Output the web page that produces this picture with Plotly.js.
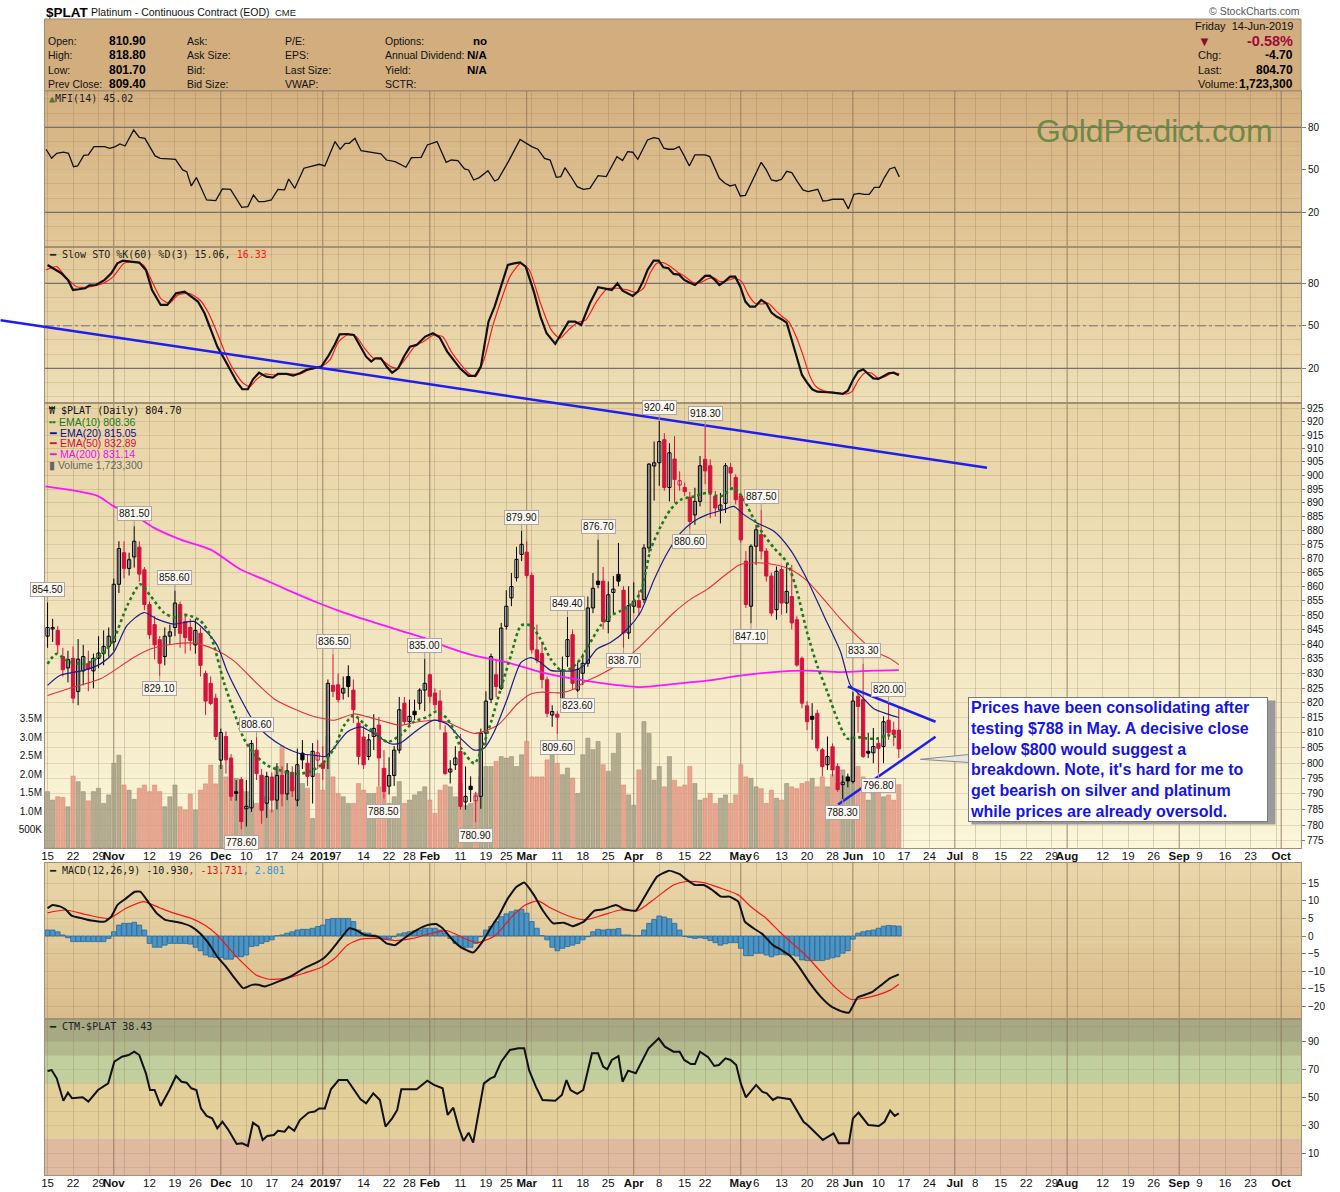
<!DOCTYPE html>
<html><head><meta charset="utf-8">
<script src="https://cdn.plot.ly/plotly-3.0.1.min.js"></script>
<style>html,body{margin:0;padding:0;background:#fff}</style>
</head><body><div id="chart" style="width:1340px;height:1192px"></div>
<script>
// ---------- DATA (trading-day index 0 = 15-Oct-2018 ... 167 = 14-Jun-2019) ----------
const open = [842.7,845.2,844.7,835.7,831.8,835.1,823.8,830.8,833.3,830.8,
835.1,836.7,839.2,840.7,860.8,872.0,866.4,870.5,874.0,865.9,
853.7,846.7,841.5,835.7,842.7,845.7,853.7,847.7,845.7,839.7,
843.7,829.9,826.6,821.6,801.0,808.8,801.7,790.7,794.7,785.2,
785.5,804.3,796.0,787.0,795.5,788.0,796.0,790.0,797.0,788.0,
803.3,800.0,795.7,801.0,800.0,802.2,825.9,826.1,823.3,828.9,
824.3,813.2,808.6,802.2,808.8,812.6,798.3,792.5,796.0,804.3,
819.9,813.7,817.2,819.9,824.3,829.5,823.3,820.6,810.0,797.1,
799.5,803.9,787.4,792.5,787.8,789.2,809.9,821.2,829.5,824.9,
846.1,856.0,863.1,871.4,872.2,863.9,838.0,836.7,827.8,815.9,
816.2,818.8,835.7,843.2,824.3,830.0,833.4,852.5,861.9,861.9,
847.8,857.9,864.3,858.7,843.8,853.1,855.1,855.4,873.7,903.5,
904.7,913.3,895.6,906.1,896.5,895.6,892.0,885.6,890.5,906.0,
903.6,892.4,887.4,889.8,903.0,899.3,892.5,869.0,853.1,874.3,
878.5,872.6,863.7,851.9,866.0,854.2,856.5,848.4,835.1,819.0,
815.5,816.5,804.4,799.5,805.4,798.9,793.0,795.5,794.0,822.2,
821.1,803.9,803.4,806.5,805.5,814.2,810.9,810.9];
const high = [854.5,848.7,846.2,838.7,837.7,839.2,841.7,839.7,837.7,836.7,
842.7,844.7,845.7,862.8,876.1,876.1,872.0,881.5,876.1,866.9,
854.7,849.7,842.7,845.7,846.7,858.6,854.7,850.7,848.7,848.7,
845.7,830.9,828.9,823.1,811.4,810.5,803.0,794.5,795.5,794.5,
807.6,808.6,798.1,797.2,797.0,800.0,799.0,800.0,799.0,804.8,
807.6,803.0,806.6,807.6,805.6,827.9,836.5,829.9,828.9,832.7,
827.9,815.3,812.4,809.6,816.2,815.3,804.3,801.9,805.6,822.0,
822.0,821.1,821.1,824.9,835.0,829.9,824.9,824.3,812.5,801.0,
805.6,809.6,798.9,795.7,790.7,811.4,823.9,836.7,834.7,847.3,
858.7,864.8,874.1,879.9,876.1,864.9,846.7,840.7,828.9,819.2,
817.2,835.7,849.4,845.0,833.7,836.7,856.5,864.8,876.7,866.9,
861.8,863.7,875.5,860.1,860.1,861.5,858.7,875.0,904.6,912.6,
920.4,915.7,912.0,914.6,901.5,897.4,894.0,895.5,907.2,918.3,
906.0,894.3,893.6,904.6,904.6,900.4,893.6,872.6,875.0,882.0,
887.5,873.7,864.9,867.1,867.1,868.3,867.7,849.6,835.7,820.6,
819.9,817.7,805.0,808.8,806.5,800.0,796.0,796.6,823.7,823.3,
833.3,810.0,811.6,808.6,815.5,820.0,813.7,818.8];
const low = [838.7,840.7,836.7,828.9,826.9,819.9,819.2,825.9,823.9,824.9,
831.7,832.7,835.7,837.7,857.7,862.9,863.9,866.7,861.8,851.7,
841.7,834.7,829.1,832.7,839.7,842.7,838.7,836.7,837.7,836.7,
828.9,816.0,819.2,807.6,798.1,796.6,787.8,787.8,778.6,779.5,
784.2,794.5,780.4,782.3,784.0,785.0,786.0,788.0,789.0,786.0,
798.1,792.6,786.9,798.1,794.5,798.1,821.9,820.1,821.1,821.9,
813.3,799.5,798.1,801.0,804.3,792.5,788.5,789.8,792.6,803.2,
812.6,812.3,814.3,817.7,817.2,819.9,817.7,811.0,796.2,793.4,
797.8,784.9,784.9,787.4,780.9,785.2,805.9,819.9,821.9,824.3,
845.0,853.1,861.8,869.0,862.9,836.7,833.4,824.9,815.2,812.0,
809.6,817.7,832.2,824.5,823.6,826.0,832.2,850.7,859.4,845.0,
843.7,850.2,860.1,838.7,841.7,850.7,849.7,854.2,872.0,890.8,
896.2,894.4,890.5,890.0,894.4,892.5,880.6,882.0,888.7,896.8,
884.4,885.0,882.5,886.3,895.5,889.4,875.5,852.5,847.1,867.7,
869.6,861.8,849.6,848.4,850.2,850.7,845.0,832.2,818.2,810.9,
807.7,803.9,795.7,797.8,795.7,790.7,788.3,792.1,793.4,810.0,
801.7,801.7,800.0,796.8,800.0,807.7,805.6,801.7];
const close = [845.7,845.7,839.7,831.2,834.7,821.6,834.8,835.7,831.4,835.1,
836.9,839.2,842.7,860.8,873.5,866.4,869.5,876.1,864.4,853.7,
843.2,839.7,833.4,842.7,844.2,854.2,843.7,842.2,841.2,844.7,
832.7,820.6,819.8,808.8,810.1,801.1,789.2,790.2,781.1,786.0,
806.5,796.6,784.7,795.7,788.0,796.0,790.0,797.5,791.0,799.5,
801.1,795.7,803.9,803.4,798.3,826.6,823.9,821.1,824.9,825.5,
817.7,802.2,799.5,807.7,811.5,801.7,790.8,796.0,804.3,817.7,
813.7,815.5,816.0,824.3,826.6,822.2,819.4,813.8,796.6,798.1,
801.7,786.0,789.2,791.4,789.3,809.9,820.6,835.7,825.5,845.5,
853.1,860.0,869.6,875.0,863.9,838.0,834.5,827.9,816.5,817.1,
815.2,831.1,841.5,826.6,831.3,833.4,852.5,859.4,860.7,847.8,
857.1,859.1,861.9,843.8,853.3,854.8,852.7,873.7,904.2,904.7,
912.6,895.6,908.4,898.5,898.1,894.1,883.2,890.5,903.6,901.7,
893.6,888.1,889.2,903.6,900.9,891.1,876.6,853.7,874.3,880.2,
872.6,863.7,850.7,865.4,854.2,858.3,847.3,832.8,819.9,813.7,
814.5,805.0,798.9,802.2,797.8,791.4,793.8,794.2,820.6,818.8,
802.2,803.3,805.5,804.9,813.7,810.0,809.4,804.7];
const volumeM = [1.53,1.30,1.39,1.37,1.12,1.95,1.80,1.53,1.28,1.53,
1.62,1.21,1.44,2.30,2.52,1.71,1.57,1.32,1.62,1.71,
1.53,1.71,1.53,1.12,1.39,1.71,1.12,1.03,1.46,1.03,
1.57,1.74,2.25,1.74,2.25,1.93,2.23,1.89,1.59,1.53,
1.30,1.21,1.98,1.39,1.03,2.21,2.77,1.48,1.66,2.11,
1.75,1.62,0.80,2.02,1.57,3.02,1.93,1.48,1.39,1.21,
1.21,1.75,1.57,1.48,1.48,1.66,2.16,1.21,1.39,1.80,
1.21,1.30,1.44,1.53,1.66,1.30,0.94,1.57,1.71,1.66,
1.39,1.75,1.16,1.21,1.48,1.93,2.21,2.21,2.35,2.48,
2.44,2.48,2.21,2.53,2.89,1.93,1.93,1.93,2.39,2.53,
2.30,1.99,2.17,1.90,1.48,2.53,2.98,2.67,2.89,2.26,
2.08,2.57,3.11,1.71,1.44,1.16,2.12,3.43,3.11,1.84,
2.21,1.66,2.48,1.84,1.66,1.71,2.21,1.75,1.30,1.35,
1.48,1.21,1.35,1.44,1.21,1.44,2.26,1.93,1.89,1.66,
1.61,1.21,1.57,1.35,1.30,1.75,1.66,1.61,1.75,1.80,
1.89,1.66,1.93,1.66,1.99,1.75,2.12,1.93,3.02,2.21,
1.93,1.30,1.57,1.52,1.39,1.44,1.30,1.72];
const macdHist = [1.7,1.7,1.2,0.3,-0.5,-1.6,-1.6,-1.6,-1.6,-1.6,
-1.6,-1.6,-0.7,1.2,3.1,3.6,3.6,3.9,3.1,1.7,
-2.1,-3.2,-3.2,-2.6,-2.1,-2.1,-2.1,-2.1,-2.3,-3.2,
-4.2,-5.4,-5.9,-6.1,-6.1,-6.6,-6.6,-5.9,-5.9,-5.4,
-3.0,-2.8,-2.1,-1.6,-1.1,0.1,0.3,0.8,1.2,1.7,
1.9,1.9,2.2,2.7,3.1,4.7,5.0,5.0,5.0,5.0,
4.1,1.7,0.9,0.8,0.3,-0.4,-0.9,-0.9,-0.2,0.6,
0.9,1.2,1.5,1.7,2.2,2.2,2.2,1.7,0.9,-0.7,
-2.1,-2.8,-3.2,-3.2,-2.1,-0.2,1.7,2.7,4.1,5.5,
6.3,6.9,7.4,7.6,6.5,4.1,2.2,0.1,-1.1,-3.2,
-4.2,-3.5,-3.0,-2.6,-2.1,-1.1,-0.2,1.2,1.9,1.7,
1.9,1.9,2.1,0.3,0.3,0.1,0.1,1.7,3.6,4.7,
5.7,5.4,4.9,3.6,1.7,-0.1,-0.4,-0.7,-0.5,-0.7,
-1.3,-1.9,-2.6,-2.2,-1.9,-1.9,-3.5,-5.6,-5.6,-4.9,
-4.9,-5.4,-5.9,-5.4,-5.2,-5.4,-5.4,-5.7,-6.8,-7.0,
-7.0,-7.0,-7.0,-6.6,-6.2,-5.9,-4.9,-4.2,-0.9,0.8,
1.2,1.5,1.7,2.2,2.8,3.0,2.9,2.8];

const ema10Pts = [[0,833.2],[1.7,836.6],[4.3,833.9],[7.5,833.2],[10.8,836.6],[13,841.7],[15.6,853.2],[18.2,860.8],[20.2,856.7],[22.8,850.9],[24.8,849.2],[27.4,850],[30,848],[32,842.8],[34.6,826.9],[36.5,817.4],[38.5,808.1],[40.5,803.1],[43.1,799.3],[45.7,797.6],[48.3,796.5],[51,797],[53.6,799.3],[56.2,804.8],[58.2,812.5],[60.1,815.8],[62.1,813],[64,810.3],[66.7,807],[69.2,809.2],[71.8,813.6],[74.5,815.3],[76.4,817.2],[78.4,814.7],[79.8,810.5],[81.1,805],[83.7,799.9],[85,803.7],[87,813.6],[88.9,824.7],[90.9,836],[92.9,846.4],[94.8,846.4],[96.7,841.7],[98.7,834.9],[100.7,831],[102.6,831.6],[104.6,834.9],[106.5,840.6],[108.5,846.4],[110.5,849.8],[112.4,851.5],[114.4,853.8],[116.3,857.8],[118.3,873.1],[120.3,881.5],[122.2,887.5],[124.2,891.1],[126.8,892.3],[129.4,893.6],[132,892.3],[134.6,895.4],[136.6,891.1],[138.6,883.9],[140.5,878.5],[142.5,873.7],[145.1,868.4],[147.1,857.8],[149,844],[151,832.6],[153,823.6],[154.9,814.7],[156.9,808.1],[158.8,808.6],[160.8,808.1],[162.8,808.1],[164.7,809.2],[167,808.4]];
const ema20Pts = [[0,825.9],[2.5,829.3],[7.1,831],[10.4,833.2],[13,837.2],[15.6,846.4],[18.9,850.9],[21.5,848.6],[24.8,846.9],[28.7,847.8],[31.3,844],[33.3,839.5],[35.3,830.4],[37.9,821.4],[40.5,813.6],[43.1,809.1],[46.4,805.3],[49.6,803.1],[52.9,802.5],[54.5,802.2],[56.1,804.8],[58.8,810.3],[61.4,812],[64,809.8],[67.3,806.4],[69.2,806.6],[72.5,810.9],[75.8,814.2],[78.4,812.9],[81.1,808.1],[83.7,804.3],[85.7,805],[87.6,810.3],[90.2,821.4],[92.9,833.7],[94.8,835.3],[96.7,833.7],[98.7,831],[100.7,830.7],[103.3,831],[105.2,832.6],[107.8,838.3],[110.5,840.6],[113.7,845.1],[116.3,850.9],[119,862.5],[121.6,872],[124.2,879.1],[126.8,883.3],[129.4,885.7],[132.7,887.5],[134.6,888.7],[136.6,885.7],[139.2,882.7],[142.5,879.7],[145.7,873.1],[149,862.5],[152.3,849.8],[155.6,837.2],[157.5,825.9],[159.5,822.5],[162.1,818],[164.7,816.3],[167,815.1]];
const ema50Pts = [[0,822.5],[3.9,824.7],[10.4,828.1],[16.9,835.4],[20.2,838.3],[24.8,840],[28.7,840.3],[32.6,838.3],[36.5,834.3],[40.5,827.5],[44.4,821.4],[48.3,818],[51.6,815.8],[54.2,814.7],[56.2,814.2],[60.1,816.3],[62.7,815.4],[66,813.8],[69.2,812.5],[72.5,813.6],[75.8,814.2],[78.4,813.6],[80.4,812],[83.7,809.8],[88.3,812.5],[92.2,819.7],[94.8,823],[96.7,823.6],[100.7,823.4],[103.3,824.7],[105.2,826.9],[108.5,829.6],[112.4,833.5],[116.3,839.3],[119.6,845.1],[122.9,850.9],[126.1,855.5],[129.4,859],[132.7,863.7],[135.9,867.8],[139.2,868.4],[142.5,867.8],[145.7,866.1],[149,862],[152.3,855.5],[155.6,848.6],[158.8,842.8],[162.1,837.7],[165.4,834.9],[167,832.9]];
const ma200Pts = [[-0.4,896],[9.7,892.6],[13,888.7],[16.9,885.7],[20.9,880.9],[26.1,876.7],[32,873.1],[37.8,866.1],[43.1,862],[47.6,858.4],[52.9,854.4],[58.1,850.9],[64,847.5],[69.2,844.6],[74.5,841.7],[78.4,838.9],[83.7,836],[90.2,833.7],[96.7,830.4],[103.3,828.1],[109.8,826.4],[116.3,825.3],[122.9,826.4],[129.4,827.5],[135.9,829.2],[142.5,830.4],[149,830.9],[155.6,830.4],[162.1,830.9],[167,831.1]];
const mfiPts = [[-0.3,64.5],[0.8,58.1],[1.8,61.6],[3.1,62.4],[4.1,61.6],[5.1,52.2],[5.9,52.7],[7.1,60.2],[8,60.5],[9.1,66.4],[11.2,66.4],[12.2,65.2],[13.3,66.4],[14.2,68.2],[15.2,66.8],[16.9,78.1],[18,72.9],[19.1,72.2],[21.1,59.8],[22.1,58.1],[25.1,57.4],[26.5,49.9],[27.3,48.7],[28.2,38.6],[29.2,44.5],[31.2,28.7],[33,28.2],[34.3,36.5],[35.9,36.2],[37.1,28.7],[38.1,23.5],[39.3,24],[40.4,32.2],[41.4,27.5],[42.5,27.5],[43.9,28.7],[45.2,36.2],[46.5,35.8],[47.3,43.5],[48.5,36.9],[50.3,51.1],[53.3,53.9],[54.4,52.7],[56.4,69.9],[57.4,64.5],[58.4,68.7],[59.2,68.7],[60.3,72.2],[61.5,63.5],[65.4,61.2],[66.5,56.9],[68.2,55.8],[70.3,51.8],[71.4,58.6],[73.3,58.8],[74.5,67.5],[76.4,69.9],[78.2,55.3],[79.2,56.9],[80.5,56.5],[81.8,50.6],[82.6,49.9],[83.6,42.8],[84.7,44.5],[86.4,49.4],[87.7,42.1],[88.4,43.3],[90.4,55.8],[92.7,71.5],[93.7,69.2],[95,66.4],[96.2,64.5],[97.5,58.1],[98.6,56.9],[99.8,44.7],[100.7,45.2],[101.5,51.5],[102.6,45.6],[103.9,38.1],[105.1,36.2],[106.4,36.9],[108,45.9],[109.6,45.2],[111.7,59.3],[112.8,56.5],[113.8,62.8],[114.8,62.4],[115.8,57.4],[117.7,71.1],[118.9,72.7],[119.9,72],[120.9,65.2],[121.8,64.5],[122.8,64.5],[123.9,66.4],[124.9,59.8],[125.9,52.7],[127,60.5],[129,60.5],[129.9,59.3],[130.8,52.2],[131.8,44],[132.9,40.5],[133.9,38.6],[134.9,39.5],[135.9,31.5],[136.9,32],[137.9,39.3],[138.9,47.1],[140,55.3],[141,49.9],[142,42.8],[143,42.1],[144,43.3],[145,48.9],[146,48],[147.1,41.6],[148.2,35.8],[149.2,34.6],[150.1,35.3],[151.1,36.2],[152.1,28],[153,28.2],[154,29.2],[155.1,29.2],[156.1,29.2],[157.1,22.4],[158.2,32.7],[159.2,33.4],[160.2,32.7],[161.2,32.7],[162.2,37.6],[163.2,37.6],[164.2,44.7],[165.2,50.6],[166.2,51.8],[167.1,45]];
const stoKPts = [[0,92.9],[1,90.6],[2.7,87.1],[4,82.4],[5,75.3],[6.1,75.8],[7.4,76.5],[8.2,78.6],[9.5,78.8],[11.2,82.4],[12.5,87.1],[13.7,94.1],[14.8,96],[16.3,95.3],[18,94.6],[19.3,89.4],[20.5,75.3],[22.2,64.7],[23.5,64.7],[25.2,72.9],[26.9,74.1],[28.2,70.6],[29.5,67.1],[30.8,58.8],[32,47.1],[33.3,35.3],[34.6,27.1],[35.9,18.8],[37.1,10.6],[38.2,5.2],[39.3,5.2],[40.3,12.2],[41.5,16.9],[42.9,14.1],[44.2,13.4],[45.2,16],[46.9,16],[48.2,14.8],[49.5,16.5],[50.7,18.8],[52,20],[53.7,21.2],[55,28.2],[56.3,36.5],[57.3,44],[58.8,44.2],[60.1,43.5],[61.4,35.3],[62.5,28.2],[63.5,24.7],[64.3,27.1],[65.4,27.1],[66.5,21.2],[67.6,16.9],[68.8,20],[69.9,28.2],[71.1,35.3],[72.4,36.5],[74.1,42.4],[75.6,44.7],[76.9,41.9],[78.4,31.8],[79.6,26.4],[80.9,20],[82.6,14.6],[83.9,14.6],[85,21.2],[86.5,52.9],[87.7,63.5],[89,77.6],[90.3,92.9],[91.5,94.1],[92.7,94.8],[93.8,91.8],[95.4,74.1],[96.7,56.5],[97.9,44.7],[99.6,37.2],[100.9,44.7],[102.2,52.9],[103.5,52.9],[104.7,50.6],[106.4,65.9],[108,77.2],[110.7,75.3],[111.8,80],[112.8,74.8],[114.8,71.1],[115.8,74.1],[116.8,81.2],[117.7,89.4],[118.9,96],[119.9,96],[120.8,91.3],[121.8,90.6],[122.8,86.6],[123.9,86.1],[124.9,82.4],[125.9,80.5],[127,78.8],[128,81.9],[129,85.2],[129.9,85.4],[130.9,82.4],[131.8,78.8],[132.8,81.2],[133.9,84.7],[134.9,84.7],[135.9,77.6],[136.9,67.1],[137.8,63.5],[138.8,63.5],[140,68.2],[141,65.9],[142,59.3],[143,56.5],[144,54.6],[145,52.2],[146,40],[147,27.1],[148,15.3],[149,9.9],[150,5.2],[151,3.5],[152,3.5],[153,3.1],[154,2.8],[155,2.4],[156,1.9],[157,4.2],[158,11.8],[159,17.6],[160,19.3],[161,16],[162,12.9],[163,12.5],[164,14.6],[165,16.5],[166,16.9],[167,15.1]];
const stoDPts = [[-0.3,89.4],[1.8,91.8],[3.5,84.7],[5.7,77.6],[7.4,77.2],[9.1,78.1],[11.2,80.5],[12.9,84.7],[15,94.1],[17.1,95.3],[18.8,92.9],[20.5,81.2],[22.2,69.4],[23.9,65.9],[25.6,71.8],[27.8,72.9],[29.9,68.2],[31.6,58.8],[33.3,44.7],[35,29.4],[36.7,17.6],[38.4,9.4],[39.7,7.1],[40.9,11.8],[42.6,16],[44.4,15.3],[46.9,16],[49.5,16],[51.2,18.8],[53.7,21.2],[55.4,25.9],[57.1,38.8],[58.8,43.5],[60.5,42.4],[62.2,34.1],[63.9,27.1],[65.6,25.9],[67.3,21.2],[68.6,20],[70.3,27.1],[72,35.3],[73.7,38.8],[75.8,43.5],[77.5,42.4],[79.2,31.8],[80.9,23.5],[82.6,16.5],[83.9,14.1],[85.6,25.9],[87.3,49.4],[89,68.2],[90.7,84.7],[92.8,94.1],[94.5,89.4],[96.7,65.9],[98.8,47.1],[100.5,41.2],[102.2,47.1],[103.9,52.2],[105.6,54.1],[107.7,67.1],[109.7,75.8],[111.8,76.5],[113.7,75.3],[115.6,73.4],[116.9,76.5],[118.2,87.1],[119.5,94.1],[120.8,94.6],[122.2,91.8],[123.5,88.2],[125.1,84.7],[126.7,80.5],[128,80.5],[129.3,82.8],[130.6,84.2],[131.9,81.2],[133.3,81.9],[134.9,83.5],[136.2,81.2],[137.5,71.8],[138.8,65.9],[140.2,65.4],[141.4,65.9],[142.7,61.2],[144,56.9],[145.4,52.9],[147,41.2],[148.3,28.2],[149.6,14.1],[150.9,6.6],[152.9,3.5],[154.8,2.8],[156.8,1.9],[157.8,3.5],[159.1,11.8],[160.4,16.9],[161.7,16.5],[163,12.9],[164.3,14.1],[165.6,16.5],[167.1,16.3]];
const macdPts = [[0,7.9],[1,8.8],[2.3,8.5],[3.5,7.6],[4.8,5.7],[6.9,5],[8.6,4.4],[11.2,4.1],[12.5,5.5],[13.7,8.8],[15.4,10.7],[17.1,12.6],[18.2,12.6],[19.7,9.8],[21.4,6.5],[23.1,4.6],[24.8,4.1],[26.5,3.6],[28.2,2.7],[29.9,0.8],[31.6,-2.1],[33.3,-5.9],[35,-8.7],[36.7,-12],[38.4,-14.9],[40.1,-13.9],[41.4,-13.9],[42.6,-14.4],[45.2,-13],[47.8,-11.4],[50.3,-9.2],[52.4,-7.8],[54.1,-6.4],[55.4,-4.5],[57.5,-0.7],[59.2,2.2],[60.5,1.7],[62.2,0.3],[64.8,-0.2],[66.5,-2.1],[68.2,-2.6],[69.9,-0.7],[72.4,1.7],[74.5,3.1],[76.2,3.4],[77.5,2.2],[79.2,-0.7],[80.9,-3],[83.5,-4.7],[85.2,-1.9],[86.9,2.2],[88.6,6],[90.3,10.7],[92,14],[93.5,15.2],[95.4,11.7],[97.1,7.4],[99.2,3.6],[101.3,3.8],[103,2.8],[105.2,4.1],[107.3,7.2],[109,7.6],[111.5,8.8],[113.2,7.6],[115.4,7.2],[117.5,12.1],[119.6,16.9],[121.9,18.6],[124,17.6],[125.3,16.1],[127,14.5],[128.7,14.5],[130.4,13.1],[132.1,11.2],[133.8,11.2],[135.5,9.8],[136.8,4.1],[138.5,2.2],[140.2,0.6],[142.3,-2.6],[144,-4],[145.7,-5.7],[147.4,-8.7],[149.6,-13.5],[151.7,-17.3],[153.8,-20.1],[155.9,-21.5],[157.2,-21.8],[158.9,-17.5],[160.2,-16.8],[161.9,-15.8],[163.6,-13.9],[165.3,-12],[167,-10.9]];
const signalPts = [[0,6.6],[3.5,7.4],[7.8,6],[12,5],[15.4,7.9],[18.8,9.8],[22.2,7.9],[24.8,6.5],[28.2,5],[30.8,3.1],[33.3,0.3],[35.9,-4],[38.4,-7.8],[40.9,-11.1],[43.5,-12.3],[46.9,-12],[50.3,-10.6],[53.7,-8.9],[56.3,-6.4],[58.8,-2.6],[61.4,-0.9],[64.8,-0.7],[68.2,-1.3],[71.6,-0.7],[74.9,0.6],[78.4,1.5],[81.8,-0.7],[84.3,-1.9],[87.7,0],[91.1,5.5],[93.7,8.8],[96.2,10],[98.8,7.9],[102.2,5.7],[105.6,4.6],[109,6],[112.4,7.4],[115.8,7.2],[119.2,10.7],[122.8,14.5],[125.3,15.5],[128.7,15.2],[132.1,13.6],[135.5,11.7],[138,8.3],[141,5],[143.6,1.2],[146.1,-2.1],[148.7,-5.4],[151.7,-10.2],[154.7,-14.9],[157.6,-18],[160.2,-17.7],[163.2,-16.6],[165.3,-15.4],[167,-13.7]];
const ctmPts = [[0,68.6],[0.8,69.3],[1.8,63.4],[3.1,47.5],[4,53.2],[4.8,49.2],[6.9,49.9],[8,46.8],[9.9,55.1],[11.9,59.8],[13.1,75.3],[14.6,78.8],[15.9,80],[17,82.4],[18,80],[19.3,67],[20.1,55.1],[21,55.1],[22.2,43.7],[23.9,55.1],[25.2,65.1],[26.3,61],[27.3,60.3],[28.2,56.3],[29.2,55.1],[30.1,42],[31.2,36.6],[32.3,34.9],[33.3,27.8],[34.3,32.5],[35.4,27.1],[37.1,16.6],[38.2,17.1],[39.3,15.2],[40.3,31.8],[41.4,29],[42.2,19.5],[43.1,22.3],[44.4,23],[45.2,26.1],[46.5,25.4],[47.3,29],[48.4,26.1],[49.5,33.7],[51.2,39],[52.4,39.7],[53.3,42],[54.4,42],[55.6,55.6],[57.1,62.2],[58.8,62.2],[60.1,55.1],[61.4,48.5],[62.5,45.6],[63.9,52.7],[65.2,48],[66.3,29],[67.6,34.9],[68.6,40.9],[69.4,55.6],[71.1,55.6],[72.4,55.6],[74.5,61.7],[75.8,58.7],[77.5,56.3],[78.5,37.3],[79.6,42.5],[80.7,27.8],[81.6,18.8],[82.6,24.7],[83.5,17.6],[84.7,42],[85.6,59.8],[86.9,63.4],[87.7,64.6],[89,75.3],[90.7,83.6],[92.4,84.8],[93.5,84.8],[94.5,68.9],[95.8,57.5],[97.1,48],[98.4,47.5],[99.6,47.5],[100.9,51.5],[101.8,62.2],[102.6,55.1],[103.9,52.3],[105.1,55.1],[106.8,81.2],[108,81.2],[109,71.7],[109.8,69.8],[110.7,76.5],[112,79.3],[112.8,61],[113.9,68.9],[115.4,67],[117.9,84.8],[119.9,91.9],[121.1,86],[122.8,82.4],[124,82.4],[124.9,76.5],[126.2,73.6],[127,73.6],[128,82.4],[129.6,78.4],[130.8,72.2],[131.7,72.9],[133,77.7],[134,76.5],[135.1,72.9],[136,59.8],[137,49.9],[139,58.7],[140.2,53.9],[141.1,52.7],[142.3,48],[143.2,49.9],[145.7,48.5],[147.2,39.2],[148.3,32.5],[149.1,30.2],[150.4,25.4],[152.1,19.5],[154.2,24.2],[155.2,17.1],[157.2,17.1],[158,34.9],[159.1,39],[161,30.2],[163.1,29.5],[164.2,32.5],[165.3,40.4],[166.2,36.6],[167,38.4]];

// user-drawn trend lines (trading-day index, price)
const trendIdx = [-9.22, 184.3], trendPrice = [959.1, 902.9];
const triUpIdx = [157.0, 174.2], triUpPrice = [825.5, 813.7];
const triLoIdx = [155.1, 174.2], triLoPrice = [786.6, 808.7];

// labelled highs / lows
const hiLabels = [[0,854.5],[17,881.5],[25,858.6],[41,808.6],[56,836.5],[74,835.0],[93,879.9],[102,849.4],[108,876.7],[120,920.4],[129,918.3],[140,887.5],[160,833.3],[165,820.0]];
const loLabels = [[22,829.1],[38,778.6],[66,788.5],[84,780.9],[100,809.6],[104,823.6],[113,838.7],[126,880.6],[138,847.1],[156,788.3],[163,796.8]];

// x axis ticks
const tickPos = [0,5,10,13,15,20,25,29,34,39,44,49,53,54,57,62,67,71,75,76,81,86,90,94,95,100,105,110,115,120,125,129,134,136,139,144,149,154,158,163,168,173,178,182,187,192,197,200,202,207,212,217,222,226,231,236,241,242];
const tickLbl = ['15','22','29','<b>Nov</b>','','12','19','26','<b>Dec</b>','10','17','24','','<b>2019</b>','7','14','22','28','<b>Feb</b>','','11','19','25','<b>Mar</b>','','11','18','25','<b>Apr</b>','8','15','22','','<b>May</b>','6','13','20','28','<b>Jun</b>','10','17','24','<b>Jul</b>','8','15','22','29','<b>Aug</b>','','12','19','26','<b>Sep</b>','9','16','23','','<b>Oct</b>'];
const monthPos = [13,34,54,75,94,115,136,158,178,200,222,242];
const priceTicks = [775,780,785,790,795,800,805,810,815,820,825,830,835,840,845,850,855,860,865,870,875,880,885,890,895,900,905,910,915,920,925];
const volTicks = [0.5,1,1.5,2,2.5,3,3.5], volTickText = ['500K','1.0M','1.5M','2.0M','2.5M','3.0M','3.5M'];

// ---------- LAYOUT HELPERS ----------
const W = 1340, H = 1192, ML = 45, MR = 39, MT = 91, MB = 17;
const PW = W - ML - MR, PH = H - MT - MB;
const X = px => (px - ML) / PW;
const Y = py => (H - MB - py) / PH;
const dom = {
  mfi: [Y(247.3), 1], sto: [Y(403.3), Y(247.3)], price: [Y(848), Y(403.3)],
  macd: [Y(1019.3), Y(863)], ctm: [0, Y(1019.3)]
};
const xr = [-0.5, 245.9];
const priceRange = [Math.log10(772.7), Math.log10(927.0)];
const paperXi = i => (i - xr[0]) / (xr[1] - xr[0]);
const paperYp = p => dom.price[0] + (Math.log10(p) - priceRange[0]) / (priceRange[1] - priceRange[0]) * (dom.price[1] - dom.price[0]);

const RED = '#d4143c', BLUE_LINE = '#1e1ef0';
const N = close.length;
const idx = close.map((_, i) => i);
const isUp = close.map((c, i) => i === 0 ? c >= open[i] : c >= close[i - 1]);

const shapes = [];
const annotations = [];
function lerp(a, b, t) { return a.map((v, i) => Math.round(v + (b[i] - v) * t)); }
function grad(xa, ya, c0, c1) {
  const n = 30;
  for (let k = 0; k < n; k++) {
    const c = lerp(c0, c1, (k + 0.5) / n);
    shapes.push({type:'rect', xref:xa+' domain', yref:ya+' domain', x0:0, x1:1, y0:Math.max(0,1-(k+1)/n-0.003), y1:1-k/n, fillcolor:'rgb('+c+')', line:{width:0}, layer:'below'});
  }
}
grad('x','y',[212,176,128],[226,199,151]);
grad('x2','y2',[226,200,153],[238,223,182]);
grad('x3','y3',[231,211,164],[251,246,218]);
grad('x4','y4',[233,215,169],[217,188,139]);
// CTM bands
[[90,106,'#a6a984'],[80,90,'#b2b98d'],[60,80,'#c0cf9d'],[20,60,'#e3cf99'],[-6,20,'#dfb9a0']].forEach(b => {
  shapes.push({type:'rect', xref:'x5 domain', yref:'y5', x0:0, x1:1, y0:b[0], y1:b[1], fillcolor:b[2], line:{width:0}, layer:'below'});
});
// header box
shapes.push({type:'rect', xref:'paper', yref:'paper', x0:X(44.5), x1:X(1301), y0:Y(91), y1:Y(19), fillcolor:'#d2ad7e', line:{color:'#a08a74', width:1}, layer:'below'});
// month lines
[['x','y'],['x2','y2'],['x3','y3'],['x4','y4'],['x5','y5']].forEach(p => {
  monthPos.forEach(m => shapes.push({type:'line', xref:p[0], yref:p[1]+' domain', x0:m, x1:m, y0:0, y1:1, line:{color:'rgba(135,110,85,0.55)', width:1.2}, layer:'below'}));
});
// reference lines
[80,20].forEach(v => shapes.push({type:'line', xref:'x domain', yref:'y', x0:0, x1:1, y0:v, y1:v, line:{color:'#6e6e76', width:1.3}, layer:'below'}));
[80,20].forEach(v => shapes.push({type:'line', xref:'x2 domain', yref:'y2', x0:0, x1:1, y0:v, y1:v, line:{color:'#6e6e76', width:1.3}, layer:'below'}));
shapes.push({type:'line', xref:'x2 domain', yref:'y2', x0:0, x1:1, y0:50, y1:50, line:{color:'#707070', width:1, dash:'dashdot'}, layer:'below'});
// long trend line (crosses panels, starts in the left margin)
shapes.push({type:'line', xref:'paper', yref:'paper', x0:paperXi(trendIdx[0]), y0:paperYp(trendPrice[0]), x1:paperXi(trendIdx[1]), y1:paperYp(trendPrice[1]), line:{color:BLUE_LINE, width:2.5}, layer:'above'});
// comment box shadow & pointer
shapes.push({type:'rect', xref:'paper', yref:'paper', x0:X(971.5), x1:X(1275.5), y0:Y(824.5), y1:Y(700.5), fillcolor:'#9a9a9a', line:{width:0}, layer:'above'});
shapes.push({type:'path', xref:'paper', yref:'paper', path:'M '+X(969)+' '+Y(754.5)+' L '+X(920.4)+' '+Y(759.3)+' L '+X(969)+' '+Y(762.5)+' Z', fillcolor:'#e6e6e6', line:{color:'#8a8a8a', width:1}, layer:'above'});

// ---------- TEXT ----------
function txt(px, py, text, size, color, anchor, family) {
  annotations.push({xref:'paper', yref:'paper', x:X(px), y:Y(py), text:text, showarrow:false, xanchor:anchor||'left', yanchor:'middle', font:{family:family||'Liberation Sans, Arial, sans-serif', size:size, color:color||'#111'}});
}
txt(44, 12, '<b>$PLAT</b>', 13.5, '#000');
txt(89, 12.5, 'Platinum - Continuous Contract (EOD)', 10.5, '#111');
txt(273, 13, 'CME', 9.5, '#222');
txt(1302, 11.5, '© StockCharts.com', 10.5, '#555', 'right');
const rows = [40.7, 55.2, 69.6, 84.1];
const col1 = ['Open:','High:','Low:','Prev Close:'], val1 = ['810.90','818.80','801.70','809.40'];
const col2 = ['Ask:','Ask Size:','Bid:','Bid Size:'];
const col3 = ['P/E:','EPS:','Last Size:','VWAP:'];
const col4 = ['Options:','Annual Dividend:','Yield:','SCTR:'], val4 = ['no','N/A','N/A',''];
rows.forEach((r, k) => {
  txt(46, r, col1[k], 10.5); txt(148, r, '<b>'+val1[k]+'</b>', 12, '#000', 'right');
  txt(184.5, r, col2[k], 10.5); txt(282.5, r, col3[k], 10.5); txt(383, r, col4[k], 10.5);
  if (val4[k]) txt(489, r, '<b>'+val4[k]+'</b>', 11.5, '#000', 'right');
});
txt(1295, 26, 'Friday  14-Jun-2019', 11, '#111', 'right');
txt(1204, 41, '▼', 13, '#8c0c2c', 'center');
txt(1295, 41, '<b>-0.58%</b>', 14.5, '#9c0c3a', 'right');
const rLbl = ['Chg:','Last:','Volume:'], rVal = ['-4.70','804.70','1,723,300'];
[55.2, 69.6, 84.1].forEach((r, k) => { txt(1196, r, rLbl[k], 11); txt(1295, r, '<b>'+rVal[k]+'</b>', 12, '#000', 'right'); });
txt(1154, 131, 'GoldPredict.com', 32, 'rgba(102,133,62,0.93)', 'center');

const MONO = 'DejaVu Sans Mono, monospace';
txt(47, 98.8, '<span style="color:#4a7a2a">▲</span>MFI(14) 45.02', 10, '#222', 'left', MONO);
txt(47, 254.3, '━ Slow STO %K(60) %D(3) 15.06, <span style="color:#ff1a1a">16.33</span>', 10, '#222', 'left', MONO);
txt(47, 410.8, '₩ $PLAT (Daily) 804.70', 10, '#111', 'left', MONO);
const legSans = 'Liberation Sans, Arial, sans-serif';
txt(47, 421.7, '╍ EMA(10) 808.36', 10.5, '#1d7a1d', 'left', legSans);
txt(47, 432.7, '━ EMA(20) 815.05', 10.5, '#10108a', 'left', legSans);
txt(47, 443.4, '━ EMA(50) 832.89', 10.5, '#d81038', 'left', legSans);
txt(47, 454.3, '━ MA(200) 831.14', 10.5, '#f010f0', 'left', legSans);
txt(47, 464.5, '▮ Volume 1,723,300', 10.5, '#666', 'left', legSans);
txt(47, 870.7, '━ MACD(12,26,9) -10.930<span style="color:#f01010">, -13.731</span><span style="color:#3a92d4">, 2.801</span>', 10, '#222', 'left', MONO);
txt(47, 1026.5, '━ CTM-$PLAT 38.43', 10, '#222', 'left', MONO);

// comment box
annotations.push({xref:'paper', yref:'paper', x:X(968), y:Y(697), xanchor:'left', yanchor:'top', showarrow:false, align:'left', width:296,
  text:'Prices have been consolidating after<br>testing $788 in May. A decisive close<br>below $800 would suggest a<br>breakdown. Note, it\'s hard for me to<br>get bearish on silver and platinum<br>while prices are already oversold.',
  font:{family:'Liberation Sans, Arial, sans-serif', size:16, color:'#1414e6', weight:700}, bgcolor:'#ffffff', bordercolor:'#7a7a7a', borderwidth:1, borderpad:1});

// price high/low labels
function lbl(p, dy) {
  annotations.push({xref:'x3', yref:'y6', x:p[0], y:Math.log10(p[1]), text:p[1].toFixed(2), showarrow:true, arrowhead:0, arrowwidth:1, arrowcolor:'#a89898', ax:0, ay:dy, standoff:0,
    bgcolor:'#fbf8ef', bordercolor:'#b4a4a4', borderwidth:1, borderpad:1, font:{family:'Liberation Sans, Arial, sans-serif', size:10, color:'#111'}});
}
hiLabels.forEach(p => lbl(p, -13));
loLabels.forEach(p => lbl(p, 13));

// ---------- TRACES ----------
const traces = [];
const xs = a => a.map(p => p[0]), ys = a => a.map(p => p[1]);
traces.push({type:'scatter', mode:'lines', x:xs(mfiPts), y:ys(mfiPts), xaxis:'x', yaxis:'y', line:{color:'#111', width:1.3}, hoverinfo:'skip'});
traces.push({type:'scatter', mode:'lines', x:xs(stoDPts), y:ys(stoDPts), xaxis:'x2', yaxis:'y2', line:{color:'#ff1a1a', width:1.2, shape:'spline', smoothing:0.6}, hoverinfo:'skip'});
traces.push({type:'scatter', mode:'lines', x:xs(stoKPts), y:ys(stoKPts), xaxis:'x2', yaxis:'y2', line:{color:'#111', width:2.2}, hoverinfo:'skip'});
traces.push({type:'bar', x:idx, y:volumeM, xaxis:'x3', yaxis:'y3', width:0.82,
  marker:{color:isUp.map(u => u ? 'rgba(168,160,132,0.85)' : 'rgba(228,152,132,0.85)'), line:{color:isUp.map(u => u ? 'rgba(130,122,100,0.7)' : 'rgba(205,118,98,0.7)'), width:0.6}}, hoverinfo:'skip'});
function wicks(sel, color) {
  const x = [], y = [];
  for (let i = 0; i < N; i++) if (sel(i)) { x.push(i, i, null); y.push(low[i], high[i], null); }
  return {type:'scatter', mode:'lines', x:x, y:y, xaxis:'x3', yaxis:'y6', line:{color:color, width:1}, hoverinfo:'skip'};
}
traces.push(wicks(i => isUp[i], '#000'));
traces.push(wicks(i => !isUp[i], RED));
traces.push({type:'bar', x:idx, base:close.map((c, i) => Math.min(c, open[i])), y:close.map((c, i) => Math.max(Math.abs(c - open[i]), 0.35)),
  xaxis:'x3', yaxis:'y6', width:0.64,
  marker:{color:close.map((c, i) => c > open[i] ? '#ffffff' : (isUp[i] ? '#000000' : RED)), line:{color:isUp.map(u => u ? '#000' : RED), width:1}}, hoverinfo:'skip'});
const ma = (pts, color, width, dash) => ({type:'scatter', mode:'lines', x:xs(pts), y:ys(pts), xaxis:'x3', yaxis:'y6', line:{color:color, width:width, dash:dash||'solid', shape:'spline', smoothing:0.7}, hoverinfo:'skip'});
traces.push(ma(ma200Pts, '#ff14ff', 1.8));
traces.push(ma(ema50Pts, '#e2303c', 1.1));
traces.push(ma(ema20Pts, '#1c1c8c', 1.2));
traces.push(ma(ema10Pts, '#1f7a1f', 2.6, 'dot'));
traces.push({type:'scatter', mode:'lines', x:triUpIdx, y:triUpPrice, xaxis:'x3', yaxis:'y6', line:{color:BLUE_LINE, width:2.5}, hoverinfo:'skip'});
traces.push({type:'scatter', mode:'lines', x:triLoIdx, y:triLoPrice, xaxis:'x3', yaxis:'y6', line:{color:BLUE_LINE, width:2.5}, hoverinfo:'skip'});
traces.push({type:'bar', x:idx, y:macdHist, xaxis:'x4', yaxis:'y4', width:0.92, marker:{color:'#4b95c6', line:{color:'#2a6896', width:0.8}}, hoverinfo:'skip'});
traces.push({type:'scatter', mode:'lines', x:xs(signalPts), y:ys(signalPts), xaxis:'x4', yaxis:'y4', line:{color:'#f01818', width:1.2, shape:'spline', smoothing:0.6}, hoverinfo:'skip'});
traces.push({type:'scatter', mode:'lines', x:xs(macdPts), y:ys(macdPts), xaxis:'x4', yaxis:'y4', line:{color:'#111', width:2, shape:'spline', smoothing:0.4}, hoverinfo:'skip'});
traces.push({type:'scatter', mode:'lines', x:xs(ctmPts), y:ys(ctmPts), xaxis:'x5', yaxis:'y5', line:{color:'#111', width:2}, hoverinfo:'skip'});

// ---------- AXES ----------
const LINE = '#a38f78';
function xa(anchor, labels) {
  return {range:xr, anchor:anchor, tickmode:'array', tickvals:tickPos, ticktext:labels ? tickLbl : tickPos.map(() => ''), showticklabels:labels, tickangle:0,
    showgrid:true, gridcolor:'rgba(150,122,92,0.30)', gridwidth:1, zeroline:false, showline:true, mirror:true, linecolor:LINE,
    ticks:'', ticklabelstandoff:-3, tickfont:{family:'Liberation Sans, Arial, sans-serif', size:11.5, color:'#111'}, fixedrange:true};
}
function ya(domain, range, tickvals, extra) {
  return Object.assign({domain:domain, range:range, side:'right', tickmode:'array', tickvals:tickvals, showgrid:false, zeroline:false,
    showline:true, mirror:true, linecolor:LINE, ticks:'outside', ticklen:4, tickcolor:'#8a7a6a',
    tickfont:{family:'Liberation Sans, Arial, sans-serif', size:10, color:'#111'}, fixedrange:true}, extra || {});
}
const faint = 'rgba(150,122,92,0.20)';
const tens = [0,10,20,30,40,50,60,70,80,90,100];
const layout = {
  width:W, height:H, margin:{l:ML, r:MR, t:MT, b:MB, pad:0}, paper_bgcolor:'#ffffff', plot_bgcolor:'rgba(0,0,0,0)',
  showlegend:false, barmode:'overlay', font:{family:'Liberation Sans, Arial, sans-serif', size:10, color:'#111'},
  xaxis:xa('y', false), xaxis2:xa('y2', false), xaxis3:xa('y3', true), xaxis4:xa('y4', false), xaxis5:xa('y5', true),
  yaxis:ya(dom.mfi, [-4.71, 105.62], [20,50,80], {anchor:'x', minor:{tickmode:'array', tickvals:tens, showgrid:true, gridcolor:faint, ticks:''}}),
  yaxis2:ya(dom.sto, [-4.71, 105.41], [20,50,80], {anchor:'x2', minor:{tickmode:'array', tickvals:tens, showgrid:true, gridcolor:faint, ticks:''}}),
  yaxis3:ya(dom.price, [0, 12.065], volTicks, {side:'left', ticktext:volTickText, ticks:'', anchor:'x3'}),
  yaxis6:{overlaying:'y3', anchor:'x3', side:'right', type:'log', range:priceRange, tickmode:'array', tickvals:priceTicks, ticktext:priceTicks.map(String),
    showgrid:true, gridcolor:'rgba(150,122,92,0.22)', zeroline:false, showline:false, ticks:'outside', ticklen:3, tickcolor:'#8a7a6a',
    tickfont:{family:'Liberation Sans, Arial, sans-serif', size:10, color:'#111'}, fixedrange:true},
  yaxis4:ya(dom.macd, [-23.70, 20.77], [-20,-15,-10,-5,0,5,10,15], {anchor:'x4', showgrid:true, gridcolor:faint}),
  yaxis5:ya(dom.ctm, [-5.46, 105.46], [10,30,50,70,90], {anchor:'x5', minor:{tickmode:'array', tickvals:tens, showgrid:true, gridcolor:'rgba(120,100,80,0.12)', ticks:''}}),
  shapes:shapes, annotations:annotations
};
Plotly.newPlot('chart', traces, layout, {staticPlot:true, displayModeBar:false});
</script></body></html>
